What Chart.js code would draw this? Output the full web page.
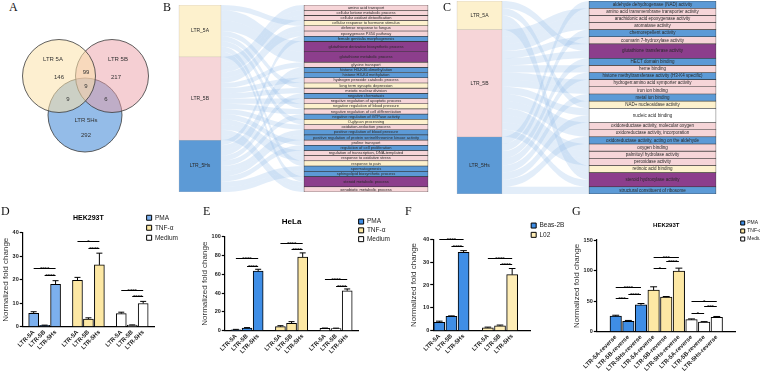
<!DOCTYPE html>
<html>
<head>
<meta charset="utf-8">
<script src="https://cdn.jsdelivr.net/npm/chart.js@4.4.1/dist/chart.umd.min.js"></script>
<style>
html, body { margin: 0; padding: 0; background: #fff; overflow: hidden; }
#fig { position: relative; width: 760px; height: 376px; overflow: hidden; background: #fff; }
#fig canvas { position: absolute; }
.tag { position: absolute; font-family: 'Liberation Serif', 'DejaVu Serif', serif; font-size: 12px; line-height: 12px; color: #111; }
</style>
</head>
<body>
<div id="fig">
  <canvas id="venn" width="160" height="135" style="left:0px;top:25px"></canvas>
  <canvas id="bp" width="257" height="187" style="left:175px;top:5px"></canvas>
  <canvas id="mf" width="270" height="193" style="left:450px;top:1px"></canvas>
  <canvas id="panelD" width="199" height="181" style="left:0px;top:195px"></canvas>
  <canvas id="panelE" width="212" height="181" style="left:190px;top:195px"></canvas>
  <canvas id="panelF" width="179" height="181" style="left:392px;top:195px"></canvas>
  <canvas id="panelG" width="211" height="181" style="left:562px;top:195px"></canvas>
  <div class="tag" style="left:9px;top:1px">A</div>
  <div class="tag" style="left:163px;top:1px">B</div>
  <div class="tag" style="left:443px;top:1px">C</div>
  <div class="tag" style="left:1px;top:205px">D</div>
  <div class="tag" style="left:203px;top:205px">E</div>
  <div class="tag" style="left:405px;top:205px">F</div>
  <div class="tag" style="left:572px;top:205px">G</div>
</div>
<script>
Chart.defaults.font.family = "'Liberation Sans', Arial, sans-serif";
Chart.defaults.color = '#222';

// ---------- A: venn counts
const vennNames = ['LTR 5A', 'LTR 5B', 'LTR 5Hs'];
// 5A only, 5B only, 5Hs only, 5A&5B, 5A&5Hs, 5B&5Hs, all three
const vennCounts = [146, 217, 292, 99, 9, 6, 9];

// ---------- B: biological process terms
const bpTerms = [
  'amino acid transport', 'cellular ketone metabolic process', 'cellular oxidant detoxification',
  'cellular response to hormone stimulus', 'defense response to fungus', 'epoxygenase P450 pathway',
  'female genitalia morphogenesis', 'glutathione derivative biosynthetic process', 'glutathione metabolic process',
  'glycine transport', 'histone H3-K36 dimethylation', 'histone H3-K4 methylation',
  'hydrogen peroxide catabolic process', 'long term synaptic depression', 'meiotic nuclear division',
  'negative chemotaxis', 'negative regulation of apoptotic process', 'negative regulation of blood pressure',
  'negative regulation of cell differentiation', 'negative regulation of GTPase activity', 'O-glycan processing',
  'oxidation-reduction process', 'positive regulation of blood pressure',
  'positive regulation of protein serine/threonine kinase activity', 'proline transport',
  'regulation of cell proliferation', 'regulation of transcription, DNA-templated', 'response to oxidative stress',
  'response to pain', 'spermatogenesis', 'sphingolipid biosynthetic process', 'steroid metabolic process',
  'xenobiotic metabolic process'
];
const bpColor  = ['p','p','p','y','p','p','b','v','v','p','b','b','p','y','p','b','p','y','p','b','y','p','b','b','p','b','p','p','y','b','b','v','p'];
const bpSource = ['B','B','B','A','B','B','H','A','A','B','H','H','B','A','B','H','B','A','B','H','A','B','H','H','B','H','B','B','A','H','H','AB','B'];
const bpSize   = [1,1,1,1,1,1,1,2,2,1,1,1,1,1,1,1,1,1,1,1,1,1,1,1,1,1,1,1,1,1,1,2,1];

// ---------- C: molecular function terms
const mfTerms = [
  'aldehyde dehydrogenase (NAD) activity', 'amino acid transmembrane transporter activity',
  'arachidonic acid epoxygenase activity', 'aromatase activity', 'chemorepellent activity',
  'coumarin 7-hydroxylase activity', 'glutathione transferase activity', 'HECT domain binding', 'heme binding',
  'histone methyltransferase activity (H3-K4 specific)', 'hydrogen:amino acid symporter activity',
  'iron ion binding', 'metal ion binding', 'NAD+ nucleosidase activity', 'nucleic acid binding',
  'oxidoreductase activity, molecular oxygen', 'oxidoreductase activity, incorporation',
  'oxidoreductase activity, acting on the aldehyde', 'oxygen binding', 'palmitoyl hydrolase activity',
  'peroxidase activity', 'retinoic acid binding', 'steroid hydroxylase activity',
  'structural constituent of ribosome'
];
const mfColor  = ['b','p','p','p','b','p','v','b','p','b','p','p','b','y','w','p','p','b','p','p','p','y','v','b'];
const mfSource = ['H','B','B','B','H','B','AB','H','B','H','B','B','H','A','BH','B','B','H','B','B','B','A','AB','H'];
const mfSize   = [1,1,1,1,1,1,2,1,1,1,1,1,1,1,2,1,1,1,1,1,1,1,2,1];

const flowNodes = ['LTR_5A', 'LTR_5B', 'LTR_5Hs'];

// ---------- D-G: normalized fold change (mean, sd)
const constructs = ['LTR-5A', 'LTR-5B', 'LTR-5Hs'];
const reverseConstructs = ['LTR-5A-reverse', 'LTR-5B-reverse', 'LTR-5Hs-reverse'];

const hekPMA = [5.7, 0.6, 18.1],   hekPMASd = [0.7, 0.1, 1.5];
const hekTNF = [19.7, 3.3, 26.3],  hekTNFSd = [1.3, 0.5, 5.0];
const hekMed = [5.6, 0.7, 9.9],    hekMedSd = [0.6, 0.1, 0.9];
const hekSig = [[0,0,2,24.8,'****'],[0,1,2,22.2,'****'],[1,0,2,36.3,'*'],[1,1,2,33.7,'****'],[2,0,2,15.5,'****'],[2,1,2,13.0,'****']];

const helaPMA = [1.1, 2.9, 63.3],  helaPMASd = [0.4, 0.5, 2.0];
const helaTNF = [4.4, 8.0, 78.2],  helaTNFSd = [1.0, 1.7, 4.5];
const helaMed = [2.5, 2.4, 42.5],  helaMedSd = [0.4, 0.4, 1.9];
const helaSig = [[0,0,2,77,'****'],[0,1,2,69,'****'],[1,0,2,93.5,'****'],[1,1,2,87.3,'****'],[2,0,2,55.3,'****'],[2,1,2,48,'****']];

const beas = [3.7, 6.3, 34.3],     beasSd = [0.5, 0.2, 0.7];
const l02 = [1.3, 2.2, 24.5],      l02Sd = [0.3, 0.3, 2.7];
const cellSig = [[0,0,2,40,'****'],[0,1,2,37.1,'****'],[1,0,2,31.9,'****'],[1,1,2,29.2,'****']];

const revPMA = [25.5, 17.0, 44.0], revPMASd = [1.5, 1.5, 2.2];
const revTNF = [68, 56.6, 99],     revTNFSd = [5.5, 1.0, 5.0];
const revMed = [19.8, 15.8, 23.8], revMedSd = [1.2, 0.8, 1.2];
const revSig = [[0,0,2,72.4,'****'],[0,0,1,56,'***'],[0,1,2,62,'****'],[1,0,2,123,'***'],[1,0,1,105,'*'],[1,1,2,115.5,'****'],[2,0,2,51,'*'],[2,0,1,31,'*'],[2,1,2,41.5,'***']];

// ---------- styles / layout
const termFill = { p: '#f6d5d8', y: '#fdf1cd', b: '#5c9ad6', v: '#8c3e8c', w: '#ffffff' };
const nodeFill = ['#fdf1cd', '#f6d5d8', '#5c9ad6'];
const vennFill = ['rgba(252,226,170,0.55)', 'rgba(236,160,168,0.5)', 'rgba(70,140,215,0.58)'];
const vennLayout = {
  circles: [[59, 51, 36.5], [112, 51, 36.5], [85, 90, 37]],
  names: [[53, 34.5], [118, 34.5], [86, 95]],
  counts: [[59, 52.5], [116, 52.5], [86, 110], [86, 47], [68, 74], [106, 74], [86, 61]]
};

// ---------- plugins
const vennText = {
  id: 'vennText',
  afterDatasetsDraw(chart) {
    const {ctx, scales: {x, y}} = chart;
    ctx.save();
    ctx.fillStyle = '#333';
    ctx.font = "6px 'Liberation Sans', Arial, sans-serif";
    ctx.textAlign = 'center';
    ctx.textBaseline = 'middle';
    vennNames.forEach((t, i) => ctx.fillText(t, x.getPixelForValue(vennLayout.names[i][0]), y.getPixelForValue(vennLayout.names[i][1])));
    vennCounts.forEach((c, i) => ctx.fillText(String(c), x.getPixelForValue(vennLayout.counts[i][0]), y.getPixelForValue(vennLayout.counts[i][1])));
    ctx.restore();
  }
};

const flowLinks = {
  id: 'flowLinks',
  beforeDatasetsDraw(chart, args, opts) {
    const {ctx, scales: {y}} = chart;
    const unit = Math.abs(y.getPixelForValue(1) - y.getPixelForValue(0));
    const nodes = [0, 1, 2].map(j => chart.getDatasetMeta(j).data[0]);
    const used = [0, 0, 0];
    ctx.save();
    ctx.fillStyle = 'rgba(150,190,235,0.28)';
    opts.source.forEach((s, i) => {
      const tgt = chart.getDatasetMeta(3 + i).data[0];
      const share = opts.size[i] / s.length;
      let tUsed = 0;
      for (const c of s) {
        const j = 'ABH'.indexOf(c);
        const n = nodes[j];
        const s0 = Math.min(n.y, n.base) + used[j] * unit, s1 = s0 + share * unit;
        const t0 = Math.min(tgt.y, tgt.base) + tUsed * unit, t1 = t0 + share * unit;
        used[j] += share; tUsed += share;
        const x0 = n.x + n.width / 2, x1 = tgt.x - tgt.width / 2, xm = (x0 + x1) / 2;
        ctx.beginPath();
        ctx.moveTo(x0, s0);
        ctx.bezierCurveTo(xm, s0, xm, t0, x1, t0);
        ctx.lineTo(x1, t1);
        ctx.bezierCurveTo(xm, t1, xm, s1, x0, s1);
        ctx.closePath();
        ctx.fill();
      }
    });
    ctx.restore();
  },
  afterDatasetsDraw(chart, args, opts) {
    const ctx = chart.ctx;
    ctx.save();
    ctx.fillStyle = '#2a2a2a';
    ctx.textAlign = 'center';
    ctx.textBaseline = 'middle';
    chart.data.datasets.forEach((ds, di) => {
      const el = chart.getDatasetMeta(di).data[0];
      ctx.font = (di < 3 ? opts.nodeFont : opts.termFont) + "px 'Liberation Sans', Arial, sans-serif";
      ctx.fillText(ds.label, el.x, (el.y + el.base) / 2);
    });
    ctx.restore();
  }
};

const errorBars = {
  id: 'errorBars',
  afterDatasetsDraw(chart) {
    const {ctx, scales: {y}} = chart;
    ctx.save();
    ctx.strokeStyle = '#000';
    ctx.lineWidth = 1;
    chart.data.datasets.forEach((ds, di) => {
      chart.getDatasetMeta(di).data.forEach((bar, i) => {
        const v = ds.data[i], e = ds.errors[i];
        if (v == null || e == null) return;
        const top = y.getPixelForValue(v + e), half = bar.width * 0.3;
        ctx.beginPath();
        ctx.moveTo(bar.x, bar.y); ctx.lineTo(bar.x, top);
        ctx.moveTo(bar.x - half, top); ctx.lineTo(bar.x + half, top);
        ctx.stroke();
      });
    });
    ctx.restore();
  }
};

const sigBrackets = {
  id: 'sigBrackets',
  afterDatasetsDraw(chart, args, opts) {
    const {ctx, scales: {x, y}} = chart;
    ctx.save();
    ctx.strokeStyle = '#000';
    ctx.fillStyle = '#000';
    ctx.lineWidth = 1;
    ctx.font = "6px 'Liberation Sans', Arial, sans-serif";
    ctx.textAlign = 'center';
    ctx.textBaseline = 'alphabetic';
    opts.marks.forEach(([a, b, v, t]) => {
      const x1 = x.getPixelForValue(a), x2 = x.getPixelForValue(b), py = Math.round(y.getPixelForValue(v)) + 0.5;
      ctx.beginPath(); ctx.moveTo(x1, py); ctx.lineTo(x2, py); ctx.stroke();
      ctx.fillText(t, (x1 + x2) / 2, py + 2.5);
    });
    ctx.restore();
  }
};

const shiftLegend = {
  id: 'shiftLegend',
  afterLayout(chart, args, opts) {
    if (chart.legend && opts.dx) { chart.legend.left += opts.dx; chart.legend.right += opts.dx; }
  }
};

// ---------- A
new Chart(document.getElementById('venn'), {
  type: 'bubble',
  data: {
    datasets: vennNames.map((n, i) => ({
      label: n,
      data: [{x: vennLayout.circles[i][0], y: vennLayout.circles[i][1], r: vennLayout.circles[i][2]}],
      backgroundColor: vennFill[i], borderColor: '#3a3a3a', borderWidth: 0.8, clip: false
    }))
  },
  plugins: [vennText],
  options: {
    responsive: false, animation: false, events: [],
    layout: { padding: 0, autoPadding: false },
    plugins: { legend: { display: false }, tooltip: { enabled: false } },
    scales: {
      x: { type: 'linear', min: 0, max: 160, display: false },
      y: { type: 'linear', min: 0, max: 135, reverse: true, display: false }
    }
  }
});

// ---------- B, C
function flowPanel(id, terms, colors, source, size, lay) {
  const total = size.reduce((a, b) => a + b, 0);
  const nodeSize = [0, 0, 0];
  source.forEach((s, i) => { for (const c of s) nodeSize['ABH'.indexOf(c)] += size[i] / s.length; });
  const datasets = flowNodes.map((n, j) => ({
    label: n, data: [{x: lay.leftX, y: nodeSize[j]}],
    backgroundColor: nodeFill[j], borderColor: '#b9b0b0', borderWidth: 0.5,
    borderSkipped: false, barThickness: lay.leftW
  })).concat(terms.map((t, i) => ({
    label: t, data: [{x: lay.rightX, y: size[i]}],
    backgroundColor: termFill[colors[i]], borderColor: '#333', borderWidth: 0.6,
    borderSkipped: false, barThickness: lay.rightW
  })));
  return new Chart(document.getElementById(id), {
    type: 'bar',
    data: { datasets },
    plugins: [flowLinks],
    options: {
      responsive: false, animation: false, events: [],
      layout: { padding: 0 },
      plugins: {
        legend: { display: false }, tooltip: { enabled: false },
        flowLinks: { source, size, nodeFont: lay.nodeFont, termFont: lay.termFont }
      },
      scales: {
        x: { type: 'linear', min: 0, max: lay.width, offset: false, stacked: true, display: false },
        y: { type: 'linear', min: 0, max: total, reverse: true, stacked: true, display: false }
      }
    }
  });
}

flowPanel('bp', bpTerms, bpColor, bpSource, bpSize, { width: 257, leftX: 25, leftW: 42, rightX: 191, rightW: 124, nodeFont: 5, termFont: 4 });
flowPanel('mf', mfTerms, mfColor, mfSource, mfSize, { width: 270, leftX: 29.5, leftW: 45, rightX: 202.5, rightW: 127, nodeFont: 5, termFont: 4.5 });

// ---------- D-G
function slotted(values, slots, n) {
  const out = new Array(n).fill(null);
  slots.forEach((s, k) => { out[s] = values[k]; });
  return out;
}

function barPanel(id, p) {
  const labels = new Array(p.n).fill('');
  p.slots.forEach(g => g.forEach((s, k) => { labels[s] = p.names[k]; }));
  const datasets = p.series.map((s, gi) => ({
    label: s.label,
    data: slotted(s.values, p.slots[gi], p.n),
    errors: slotted(s.sd, p.slots[gi], p.n),
    backgroundColor: s.color, borderColor: '#000', borderWidth: 1,
    barThickness: p.barW, grouped: false
  }));
  const marks = p.sig.map(([g, a, b, v, t]) => [p.slots[g][a], p.slots[g][b], v, t]);
  return new Chart(document.getElementById(id), {
    type: 'bar',
    data: { labels, datasets },
    plugins: [errorBars, sigBrackets, shiftLegend],
    options: {
      responsive: false, animation: false, events: [],
      layout: { padding: p.pad },
      plugins: {
        title: {
          display: true, text: p.title, fullSize: false, color: '#000',
          font: { size: p.titleSize, weight: 'bold' },
          padding: { top: p.titleTop, bottom: p.titleBottom }
        },
        legend: {
          position: 'right', align: 'start',
          labels: { boxWidth: p.box, boxHeight: p.box, padding: p.legPad, color: '#222', font: { size: p.legSize } }
        },
        tooltip: { enabled: false },
        sigBrackets: { marks },
        shiftLegend: { dx: p.legShift }
      },
      scales: {
        x: {
          type: 'category', offset: p.offset,
          grid: { display: false, drawTicks: false },
          border: { color: '#000', width: 1.2 },
          ticks: { autoSkip: false, minRotation: 45, maxRotation: 45, padding: 2, color: '#222', font: { size: 6, weight: 'bold' } }
        },
        y: {
          min: 0, max: p.yMax,
          border: { color: '#000', width: 1.2 },
          grid: { drawOnChartArea: false, tickLength: 3, tickColor: '#000', tickWidth: 1.2 },
          ticks: { stepSize: p.yStep, padding: 1, color: '#222', font: { size: 5.5, weight: 'bold' } },
          title: { display: true, text: 'Normalized fold change', color: '#333', font: { size: 8 }, padding: { top: 0, bottom: p.yTitleGap } }
        }
      }
    }
  });
}

barPanel('panelD', {
  n: 13, offset: false, slots: [[1,2,3],[5,6,7],[9,10,11]], names: constructs, barW: 10,
  series: [
    { label: 'PMA', values: hekPMA, sd: hekPMASd, color: '#7cb0ee' },
    { label: 'TNF-α', values: hekTNF, sd: hekTNFSd, color: '#fde8a4' },
    { label: 'Medium', values: hekMed, sd: hekMedSd, color: '#ffffff' }
  ],
  sig: hekSig, yMax: 40, yStep: 10, title: 'HEK293T', titleSize: 7, titleTop: 2.5, titleBottom: 10.8,
  pad: { top: 16, left: 1, right: 0, bottom: 23 }, yTitleGap: 1,
  box: 5, legPad: 3.5, legSize: 6.5, legShift: -11
});

barPanel('panelE', {
  n: 13, offset: false, slots: [[1,2,3],[5,6,7],[9,10,11]], names: constructs, barW: 10,
  series: [
    { label: 'PMA', values: helaPMA, sd: helaPMASd, color: '#3f8ee6' },
    { label: 'TNF-α', values: helaTNF, sd: helaTNFSd, color: '#fde8a4' },
    { label: 'Medium', values: helaMed, sd: helaMedSd, color: '#ffffff' }
  ],
  sig: helaSig, yMax: 100, yStep: 20, title: 'HeLa', titleSize: 8, titleTop: 0.8, titleBottom: 10.2,
  pad: { top: 21, left: 10, right: 0, bottom: 19 }, yTitleGap: 1,
  box: 5, legPad: 2.3, legSize: 6.5, legShift: -2
});

barPanel('panelF', {
  n: 8, offset: true, slots: [[0,1,2],[4,5,6]], names: constructs, barW: 11,
  series: [
    { label: 'Beas-2B', values: beas, sd: beasSd, color: '#3f8ee6' },
    { label: 'L02', values: l02, sd: l02Sd, color: '#feedb6' }
  ],
  sig: cellSig, yMax: 40, yStep: 10, title: ' ', titleSize: 6, titleTop: 0, titleBottom: 12.5,
  pad: { top: 24.5, left: 16.5, right: 0, bottom: 19 }, yTitleGap: 4,
  box: 5, legPad: 2.8, legSize: 6.5, legShift: -2
});

barPanel('panelG', {
  n: 11, offset: true, slots: [[1,2,3],[4,5,6],[7,8,9]], names: reverseConstructs, barW: 11.5,
  series: [
    { label: 'PMA', values: revPMA, sd: revPMASd, color: '#3f8ee6' },
    { label: 'TNF-α', values: revTNF, sd: revTNFSd, color: '#fde8a4' },
    { label: 'Medium', values: revMed, sd: revMedSd, color: '#ffffff' }
  ],
  sig: revSig, yMax: 150, yStep: 50, title: 'HEK293T', titleSize: 6, titleTop: 4.6, titleBottom: 10.7,
  pad: { top: 22.5, left: 10, right: 0, bottom: 1.5 }, yTitleGap: 1,
  box: 4, legPad: 3, legSize: 5, legShift: 2
});
</script>
</body>
</html>
